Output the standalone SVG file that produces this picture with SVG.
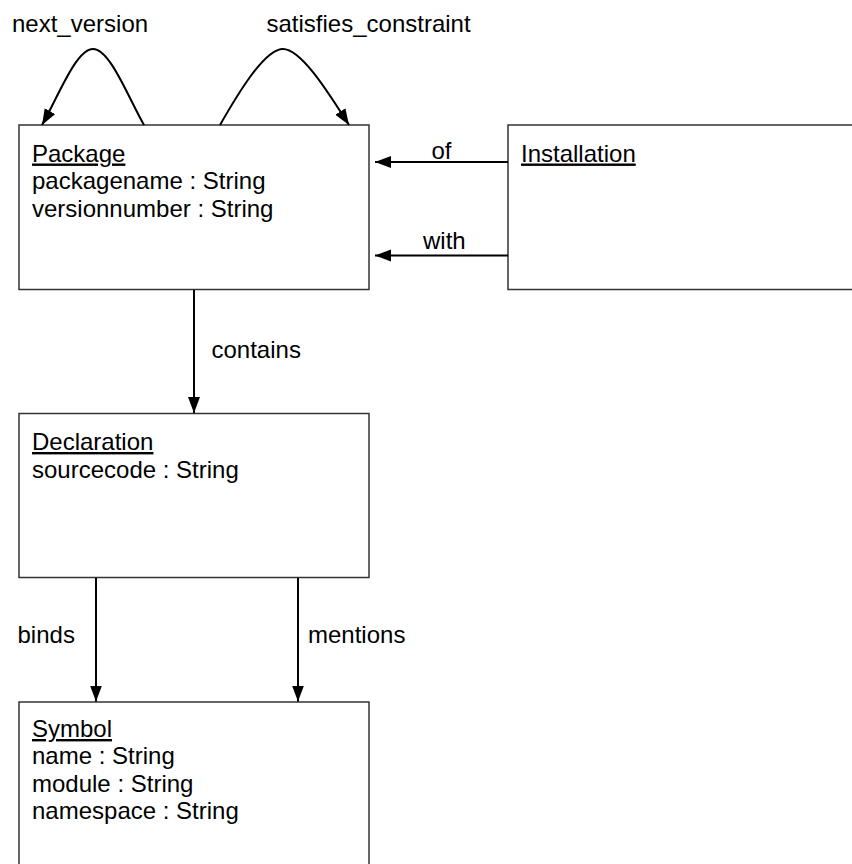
<svg xmlns="http://www.w3.org/2000/svg" width="852" height="864" viewBox="0 0 852 864">
<style>
text{font-family:"Liberation Sans",Arial,sans-serif;font-size:24px;fill:#000}
.box{fill:#fff;stroke:#333;stroke-width:1.5}
.title{text-decoration:underline}
.edge{fill:none;stroke:#000;stroke-width:2}
</style>
<defs>
<marker id="arr" markerUnits="userSpaceOnUse" markerWidth="17" markerHeight="13" refX="16" refY="6" orient="auto">
<path d="M0,0 L16,6 L0,12 z" fill="#000"/>
</marker>
</defs>
<rect width="852" height="864" fill="#fff"/>
<g id="Package">
<rect class="box" x="19" y="125" width="350" height="164.5"/>
<text class="title" x="32" y="161.5">Package</text>
<text x="32" y="189">packagename : String</text>
<text x="32" y="216.5">versionnumber : String</text>
</g>
<g id="Installation">
<rect class="box" x="508" y="125" width="360" height="164.5"/>
<text class="title" x="521" y="161.5">Installation</text>
</g>
<g id="Declaration">
<rect class="box" x="19" y="413.5" width="350" height="164"/>
<text class="title" x="32" y="450">Declaration</text>
<text x="32" y="477.5">sourcecode : String</text>
</g>
<g id="Symbol">
<rect class="box" x="19" y="702" width="350" height="200"/>
<text class="title" x="32" y="737">Symbol</text>
<text x="32" y="764">name : String</text>
<text x="32" y="791.5">module : String</text>
<text x="32" y="818.5">namespace : String</text>
</g>
<g id="connectors">
<path class="edge" d="M144,125 C128,97 110,49 93,49 C76,49 58,97 42,125" marker-end="url(#arr)"/>
<text x="12" y="32">next_version</text>
<path class="edge" d="M220,125 C236,97 264,49 283,49 C302,49 331,97 349,125" marker-end="url(#arr)"/>
<text x="266.5" y="32">satisfies_constraint</text>
<path class="edge" d="M508,162 L375,162" marker-end="url(#arr)"/>
<text x="431.5" y="159">of</text>
<path class="edge" d="M508,255.5 L375,255.5" marker-end="url(#arr)"/>
<text x="423" y="249">with</text>
<path class="edge" d="M194,290 L194,413" marker-end="url(#arr)"/>
<text x="211.5" y="358">contains</text>
<path class="edge" d="M96,578 L96,701.5" marker-end="url(#arr)"/>
<text x="17.5" y="643">binds</text>
<path class="edge" d="M298,578 L298,701.5" marker-end="url(#arr)"/>
<text x="308" y="643">mentions</text>
</g>
</svg>
